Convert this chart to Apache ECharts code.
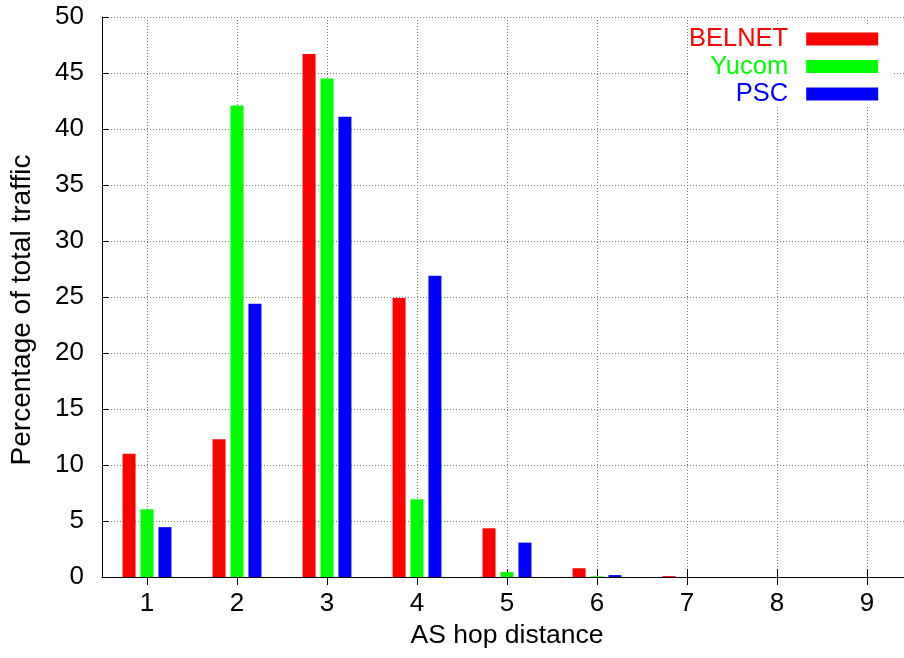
<!DOCTYPE html>
<html>
<head>
<meta charset="utf-8">
<script src="https://cdn.jsdelivr.net/npm/echarts@6/dist/echarts.min.js"></script>
<style>html,body{margin:0;padding:0;background:#fff;overflow:hidden;}#c{width:920px;height:658px;}</style>
</head>
<body>
<div id="c"></div>
<script>
var hops = ['1', '2', '3', '4', '5', '6', '7', '8', '9'];
var seriesNames = ['BELNET', 'Yucom', 'PSC'];
var belnet = [11.0, 12.3, 46.7, 24.9, 4.35, 0.78, 0.08, 0, 0];
var yucom = [6.05, 42.1, 44.5, 6.95, 0.45, 0.06, 0, 0, 0];
var psc = [4.45, 24.4, 41.1, 26.9, 3.07, 0.17, 0, 0, 0];
var colors = ['#ff0000', '#00ff00', '#0000ff'];
var yTicks = [0, 5, 10, 15, 20, 25, 30, 35, 40, 45, 50];

var FONT = 'Liberation Sans, Arial, Helvetica, sans-serif';
var chart = echarts.init(document.getElementById('c'), null, {renderer: 'canvas'});
var gridLineStyle = {color: '#777', width: 1, type: [1, 2]};
function bar(name, data, color) {
  return {
    name: name, type: 'bar', data: data, barWidth: 13, barGap: '38%',
    itemStyle: {color: color}, xAxisIndex: 0, yAxisIndex: 0, z: 3
  };
}
chart.setOption({
  animation: false,
  backgroundColor: '#fff',
  textStyle: {fontFamily: FONT},
  grid: {left: 101, top: 17, right: 8, bottom: 81, containLabel: false},
  legend: {
    orient: 'vertical', left: 688, top: 25, align: 'right',
    itemWidth: 72, itemHeight: 13, itemGap: 1.5, icon: 'rect',
    backgroundColor: '#fff', padding: [1, 14, 0, 1],
    textStyle: {fontSize: 25.5, fontFamily: FONT, lineHeight: 25.5, padding: [0, 13, 0, 0]},
    data: seriesNames.map(function (n, i) { return {name: n, textStyle: {color: colors[i]}}; })
  },
  xAxis: [{
    type: 'category', data: hops, position: 'bottom', boundaryGap: true,
    name: 'AS hop distance', nameLocation: 'middle', nameGap: 42,
    nameTextStyle: {fontSize: 26.5, color: '#000', fontFamily: FONT},
    axisLine: {show: true, lineStyle: {color: '#000', width: 1}},
    axisTick: {show: true, inside: true, length: 8, alignWithLabel: true, lineStyle: {color: '#000'}},
    axisLabel: {fontSize: 26, color: '#000', margin: 14, fontFamily: FONT},
    splitLine: {show: true, alignWithLabel: true, lineStyle: gridLineStyle}
  }, {
    type: 'category', data: hops, position: 'top', boundaryGap: true,
    axisLine: {show: true, lineStyle: {color: '#000', width: 1}},
    axisTick: {show: true, inside: true, length: 8, alignWithLabel: true, lineStyle: {color: '#000'}},
    axisLabel: {show: false}, splitLine: {show: false}
  }],
  yAxis: [{
    type: 'value', min: 0, max: 50, interval: 5,
    name: 'Percentage of total traffic', nameLocation: 'middle', nameGap: 66, nameRotate: 90,
    nameTextStyle: {fontSize: 28, color: '#000', fontFamily: FONT, padding: [0, 26, 0, 0]},
    axisLine: {show: true, lineStyle: {color: '#000', width: 1}},
    axisTick: {show: true, inside: true, length: 7, lineStyle: {color: '#000'}},
    axisLabel: {fontSize: 26, color: '#000', margin: 18, fontFamily: FONT,
      formatter: function (v) { return yTicks.indexOf(v) >= 0 ? String(v) : ''; }},
    splitLine: {show: true, lineStyle: gridLineStyle}
  }, {
    type: 'value', min: 0, max: 50, interval: 5, position: 'right',
    axisLine: {show: true, lineStyle: {color: '#000', width: 1}},
    axisTick: {show: true, inside: true, length: 7, lineStyle: {color: '#000'}},
    axisLabel: {show: false}, splitLine: {show: false}
  }],
  series: [
    bar(seriesNames[0], belnet, colors[0]),
    bar(seriesNames[1], yucom, colors[1]),
    bar(seriesNames[2], psc, colors[2])
  ]
});
</script>
</body>
</html>
